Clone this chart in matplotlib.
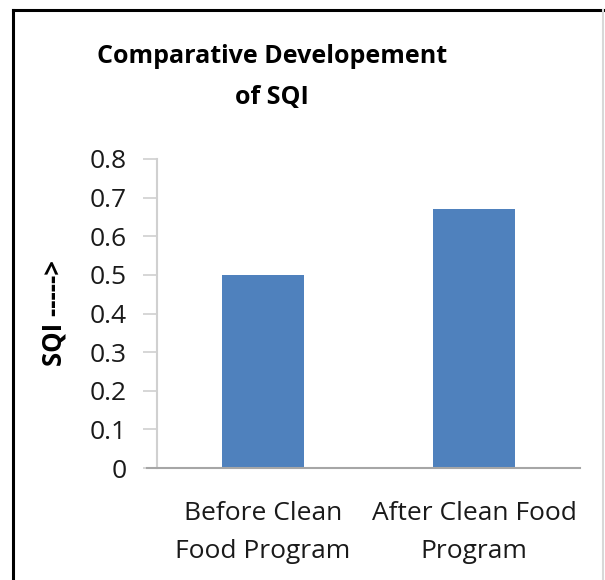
import matplotlib.pyplot as plt
from matplotlib.lines import Line2D

categories = ['Before Clean\nFood Program', 'After Clean Food\nProgram']
sqi_values = [0.50, 0.67]
y_ticks = [0, 0.1, 0.2, 0.3, 0.4, 0.5, 0.6, 0.7, 0.8]
y_tick_labels = ['0', '0.1', '0.2', '0.3', '0.4', '0.5', '0.6', '0.7', '0.8']

plt.rcParams['font.family'] = ['Open Sans', 'DejaVu Sans']

W, H = 605, 580
fig = plt.figure(figsize=(W / 100, H / 100), dpi=100)
ax = fig.add_axes([157 / W, 1 - 468 / H, (580 - 157) / W, (468 - 159) / H])

x = range(len(categories))
ax.bar(x, sqi_values, width=0.39, color='#4F81BD')

ax.set_xlim(-0.5, 1.5)
ax.set_ylim(0, 0.8)
ax.set_yticks(y_ticks)
ax.set_yticklabels(y_tick_labels, fontsize=19, color='#1a1a1a')
ax.set_xticks(list(x))
ax.set_xticklabels(categories, fontsize=19, color='#1a1a1a', linespacing=1.65)
ax.tick_params(axis='x', length=0, pad=24)
ax.tick_params(axis='y', length=10, width=1.2, color='#D0D0D0', pad=12)

for s in ['top', 'right']:
    ax.spines[s].set_visible(False)
ax.spines['left'].set_color('#D0D0D0')
ax.spines['left'].set_linewidth(1.5)
ax.spines['bottom'].set_color('#A6A6A6')
ax.spines['bottom'].set_linewidth(1.5)
ax.spines['bottom'].set_bounds(-0.5 - 10 / 211.5 * 1.0, 1.5)

ax.set_ylabel('SQI ----->', fontsize=18.5, fontweight='bold', labelpad=16)

fig.text(272 / W, 1 - 77 / H, 'Comparative Developement\nof SQI', ha='center',
         va='center', fontsize=18, fontweight='bold', linespacing=1.85)

# outer frame of the chart
fig.add_artist(Line2D([13 / W, 13 / W], [0, 1 - 10 / H], color='black', lw=2.2))
fig.add_artist(Line2D([13 / W, 603 / W], [1 - 10 / H, 1 - 10 / H], color='black', lw=2.2))
fig.add_artist(Line2D([603 / W, 603 / W], [0, 1 - 10 / H], color='#D8D8D8', lw=1.5))

fig.savefig('out.png', dpi=100)
